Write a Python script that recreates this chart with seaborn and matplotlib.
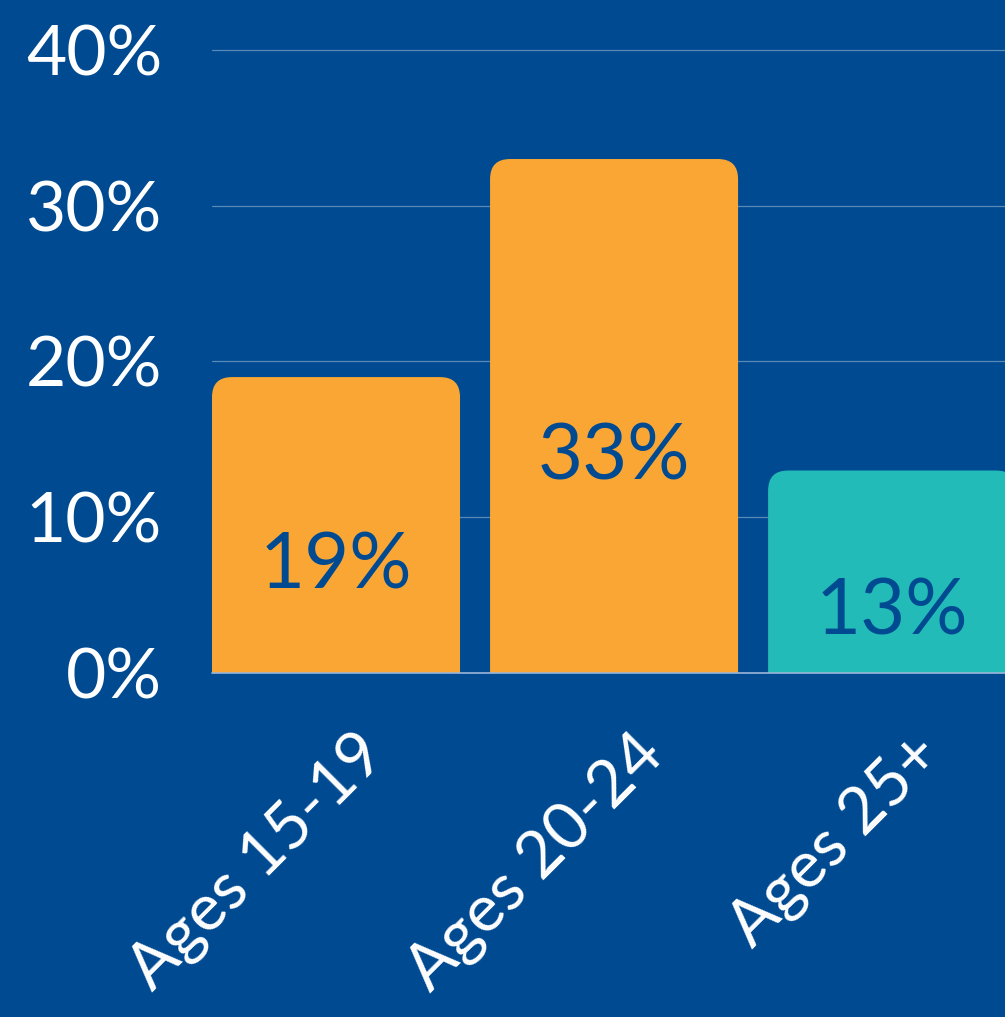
import numpy as np
import pandas as pd
import matplotlib
matplotlib.use('Agg')
import matplotlib.pyplot as plt
import matplotlib.transforms as mtransforms
from matplotlib.patches import FancyBboxPatch
import seaborn as sns

# 数据
groups = ['Ages 15-19', 'Ages 20-24', 'Ages 25+']
shares = [19, 33, 13]
labels = ['19%', '33%', '13%']
bar_colors = ['#F9A634', '#F9A634', '#23BBB8']
yticks = [0, 10, 20, 30, 40]
ytick_labels = ['0%', '10%', '20%', '30%', '40%']

bg = '#004A92'

sns.set_style('white')
plt.rcParams['font.family'] = ['Lato', 'DejaVu Sans']

df = pd.DataFrame({'group': groups, 'share': shares})

fig = plt.figure(figsize=(10.05, 10.17), dpi=100)
fig.patch.set_facecolor(bg)
ax = fig.add_axes([212 / 1005, (1017 - 673) / 1017, 1 - 212 / 1005, (673 - 42.2) / 1017])
ax.set_facecolor(bg)

sns.barplot(data=df, x='group', y='share', hue='group', palette=bar_colors,
            saturation=1, width=0.892, legend=False, ax=ax, zorder=2)

ax.set_xlim(-0.446, 2.406)
ax.set_ylim(0, 40.5)

# 把柱子换成圆角
px_x = 278.0
px_y = 15.575
for p in list(ax.patches):
    x, w, h = p.get_x(), p.get_width(), p.get_height()
    fc = p.get_facecolor()
    p.remove()
    rb = FancyBboxPatch((x, -3), w, h + 3,
                        boxstyle='round,pad=0,rounding_size=%f' % (20 / px_x),
                        mutation_aspect=px_x / px_y,
                        facecolor=fc, edgecolor='none', zorder=2)
    ax.add_patch(rb)

# 柱内标签
for i, (v, t) in enumerate(zip(shares, labels)):
    ax.annotate(t, (i, v / 2), xytext=(0, -30), textcoords='offset points',
                ha='center', va='center', fontsize=56, color=bg, zorder=3)

# 网格
for yv in yticks[1:]:
    ax.axhline(yv, color='white', alpha=0.35, lw=0.9, zorder=1)
ax.axhline(0, color='#9BB6D8', lw=1.2, zorder=4, clip_on=False)

ax.set_yticks(yticks)
ax.set_yticklabels(ytick_labels, fontsize=50, color='white')
ax.tick_params(axis='y', length=0, pad=36)
ax.tick_params(axis='x', length=0, pad=0)
ax.set_xticks(range(len(groups)))
ax.set_xticklabels(groups, fontsize=47, color='white', rotation=45,
                   ha='right', va='center', rotation_mode='anchor')
offset = mtransforms.ScaledTranslation(40 / 100, -72 / 100, fig.dpi_scale_trans)
for lab in ax.get_xticklabels():
    lab.set_transform(lab.get_transform() + offset)

ax.set_xlabel('')
ax.set_ylabel('')
sns.despine(ax=ax, left=True, bottom=True, right=True, top=True)

fig.savefig('out.png', dpi=100, facecolor=bg)
